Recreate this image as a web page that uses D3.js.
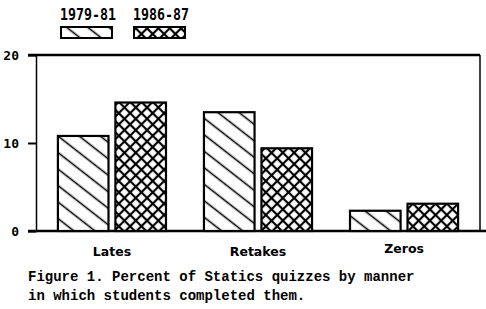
<!DOCTYPE html>
<html><head><meta charset="utf-8">
<script src="https://cdn.jsdelivr.net/npm/d3@7"></script>
<style>body{margin:0;background:#fff}svg{display:block}</style>
</head><body>
<svg id="c" width="486" height="309"></svg>
<script>
const categories = ["Lates", "Retakes", "Zeros"];
const seriesNames = ["1979-81", "1986-87"];
const values1979 = [10.8, 13.5, 2.3];
const values1986 = [14.6, 9.4, 3.1];
const yTicks = [0, 10, 20];
const captionBold = "Figure 1.";
const captionRest = " Percent of Statics quizzes by manner";
const captionLine2 = "in which students completed them.";

const svg = d3.select("#c");
const defs = svg.append("defs");
const p1 = defs.append("pattern").attr("id","diag").attr("patternUnits","userSpaceOnUse")
  .attr("width",13).attr("height",13).attr("patternTransform","rotate(38)");
p1.append("rect").attr("width",13).attr("height",13).attr("fill","#fff");
p1.append("line").attr("x1",0).attr("y1",6.5).attr("x2",13).attr("y2",6.5).attr("stroke","#000").attr("stroke-width",1.6);
const p2 = defs.append("pattern").attr("id","cross").attr("patternUnits","userSpaceOnUse")
  .attr("width",8).attr("height",8).attr("patternTransform","rotate(45)");
p2.append("rect").attr("width",8).attr("height",8).attr("fill","#fff");
p2.append("line").attr("x1",0).attr("y1",4).attr("x2",8).attr("y2",4).attr("stroke","#000").attr("stroke-width",2.2);
p2.append("line").attr("x1",4).attr("y1",0).attr("x2",4).attr("y2",8).attr("stroke","#000").attr("stroke-width",2.2);
const fills = ["url(#diag)", "url(#cross)"];

const mLeft = 36, mRight = 480, mTop = 55, mBottom = 231;
const y = d3.scaleLinear().domain([0,20]).range([mBottom, mTop]);
const x0 = d3.scaleBand().domain(categories).range([mLeft, mRight]).paddingInner(0.26).paddingOuter(0.15);
const x1 = d3.scaleBand().domain(seriesNames).range([0, x0.bandwidth()]).paddingInner(0.12);

svg.append("line").attr("x1",28).attr("x2",mRight).attr("y1",mTop).attr("y2",mTop).attr("stroke","#000").attr("stroke-width",2.5);
svg.append("line").attr("x1",mRight).attr("x2",mRight).attr("y1",mTop).attr("y2",mBottom).attr("stroke","#000").attr("stroke-width",1.5);
svg.append("line").attr("x1",28).attr("x2",486).attr("y1",mBottom).attr("y2",mBottom).attr("stroke","#000").attr("stroke-width",2.5);

const yAxis = d3.axisLeft(y).tickValues(yTicks).tickSize(8).tickPadding(9).tickFormat(d3.format("d"));
const ga = svg.append("g").attr("transform",`translate(${mLeft},0)`).call(yAxis);
ga.select(".domain").attr("stroke","#000").attr("stroke-width",1.5);
ga.selectAll(".tick line").attr("stroke","#000").attr("stroke-width",2);
ga.selectAll(".tick text").attr("font-family","DejaVu Sans Mono").attr("font-size",13).attr("font-weight","bold").attr("fill","#000");

const data = categories.map((c,i)=>({cat:c, vals:[values1979[i], values1986[i]]}));
const g = svg.append("g");
data.forEach(d=>{
  d.vals.forEach((v,j)=>{
    const xx = x0(d.cat)+x1(seriesNames[j]);
    g.append("rect").attr("x",xx).attr("y",y(v)).attr("width",x1.bandwidth()).attr("height",mBottom-y(v))
      .attr("fill",fills[j]).attr("stroke","#000").attr("stroke-width",2.2);
  });
});

svg.selectAll(".cat").data(categories).join("text")
  .attr("x",d=>x0(d)+x0.bandwidth()/2).attr("y",(d,i)=>i===2?253:256)
  .attr("text-anchor","middle").attr("font-family","DejaVu Sans").attr("font-size",12.5).attr("font-weight","600").attr("fill","#000")
  .text(d=>d);

const lx = [60, 133];
seriesNames.forEach((s,j)=>{
  svg.append("text").attr("x",lx[j]).attr("y",20).attr("font-family","DejaVu Sans Mono").attr("font-weight","bold")
    .attr("font-size",16).attr("textLength",56).attr("lengthAdjust","spacingAndGlyphs").attr("fill","#000").text(s);
  svg.append("rect").attr("x",lx[j]+1).attr("y",27).attr("width",51).attr("height",11)
    .attr("fill",fills[j]).attr("stroke","#000").attr("stroke-width",2);
});

const cap = svg.append("text").attr("x",28).attr("y",281).attr("font-family","Liberation Mono").attr("font-size",14).attr("font-weight","bold").attr("fill","#000");
cap.append("tspan").text(captionBold);
cap.append("tspan").text(captionRest);
svg.append("text").attr("x",28).attr("y",300).attr("font-family","Liberation Mono").attr("font-size",14).attr("font-weight","bold").attr("fill","#000").text(captionLine2);
</script>
</body></html>
